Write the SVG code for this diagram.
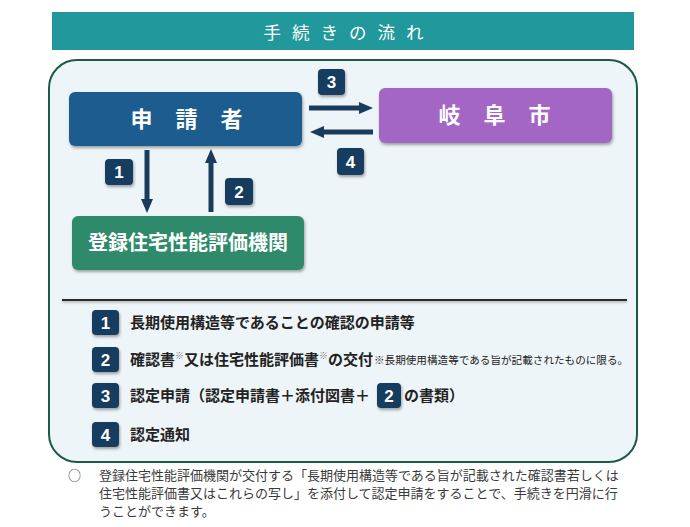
<svg xmlns="http://www.w3.org/2000/svg" width="690" height="527" viewBox="0 0 690 527">
<defs>
<style>
.cjk{font-family:"Noto Sans CJK JP","Noto Sans CJK SC",sans-serif;}
.badge{fill:#173e5e;}
.bt{font-family:"Liberation Sans","Noto Sans",sans-serif;font-weight:bold;font-size:17px;fill:#fff;text-anchor:middle;}
.node{font-family:"Noto Sans CJK JP",sans-serif;font-weight:bold;fill:#fff;text-anchor:middle;}
.leg{font-family:"Noto Sans CJK JP",sans-serif;font-weight:bold;font-size:15px;fill:#222;}
.note{font-family:"Noto Sans CJK JP",sans-serif;font-size:13px;fill:#3a3a3a;}
.arr{stroke:#1a3c5c;stroke-width:5;fill:none;}
.sup{font-size:9px;font-weight:normal;fill:#777;}
</style>
<filter id="sh" x="-10%" y="-10%" width="120%" height="130%">
<feDropShadow dx="1" dy="2" stdDeviation="1.8" flood-color="#000" flood-opacity="0.35"/>
</filter>
<filter id="lsh" filterUnits="userSpaceOnUse" x="50" y="290" width="590" height="20">
<feDropShadow dx="0" dy="1.5" stdDeviation="1" flood-color="#000" flood-opacity="0.3"/>
</filter>
<marker id="ah" viewBox="0 0 14 12" refX="1" refY="6" markerWidth="14" markerHeight="12" markerUnits="userSpaceOnUse" orient="auto">
<path d="M0,0 L14,6 L0,12 z" fill="#1a3c5c"/>
</marker>
</defs>

<rect x="0" y="0" width="690" height="527" fill="#fff"/>

<g id="header">
<rect x="52" y="12" width="582" height="38" fill="#21999c"/>
<text class="cjk" x="349" y="39" font-size="17.5" fill="#fff" text-anchor="middle" letter-spacing="11">手続きの流れ</text>
</g>

<g id="frame">
<rect x="49" y="60" width="588" height="402" rx="28" fill="#eef5f8" stroke="#1e5947" stroke-width="2"/>
<rect x="62" y="299" width="565" height="2" fill="#2a2a2a" filter="url(#lsh)"/>
</g>

<g id="applicant">
<rect x="69" y="92" width="233" height="54" rx="6" fill="#1f5b8e" filter="url(#sh)"/>
<text class="node" x="198" y="127" font-size="22" letter-spacing="23">申請者</text>
</g>

<g id="gifu">
<rect x="379" y="88" width="233" height="55" rx="6" fill="#a466c4" filter="url(#sh)"/>
<text class="node" x="506" y="123" font-size="22" letter-spacing="23">岐阜市</text>
</g>

<g id="agency">
<rect x="72" y="216" width="232" height="54" rx="6" fill="#2f8a6b" filter="url(#sh)"/>
<text class="node" x="188" y="250" font-size="20" font-weight="500">登録住宅性能評価機関</text>
</g>

<g id="connectors">
<line class="arr" x1="309" y1="108" x2="360" y2="108" marker-end="url(#ah)"/>
<line class="arr" x1="373" y1="132" x2="323" y2="132" marker-end="url(#ah)"/>
<line class="arr" x1="147" y1="150" x2="147" y2="200" marker-end="url(#ah)"/>
<line class="arr" x1="211" y1="212" x2="211" y2="162" marker-end="url(#ah)"/>
</g>

<g id="badge3">
<rect class="badge" x="318" y="69" width="27" height="26" rx="4" filter="url(#sh)"/>
<text class="bt" x="331.5" y="88">3</text>
</g>
<g id="badge4">
<rect class="badge" x="337" y="148" width="27" height="27" rx="4" filter="url(#sh)"/>
<text class="bt" x="350.5" y="168">4</text>
</g>
<g id="badge1">
<rect class="badge" x="105" y="159" width="28" height="26" rx="4" filter="url(#sh)"/>
<text class="bt" x="119" y="178">1</text>
</g>
<g id="badge2">
<rect class="badge" x="225" y="178" width="28" height="27" rx="4" filter="url(#sh)"/>
<text class="bt" x="239" y="198">2</text>
</g>

<g id="legend">
<rect class="badge" x="92" y="310" width="27" height="25" rx="4" filter="url(#sh)"/>
<text class="bt" x="105.5" y="329">1</text>
<text class="leg" x="130" y="328">長期使用構造等であることの確認の申請等</text>

<rect class="badge" x="92" y="347" width="27" height="25" rx="4" filter="url(#sh)"/>
<text class="bt" x="105.5" y="366">2</text>
<text class="leg" x="130" y="365">確認書<tspan class="sup" dy="-6">※</tspan><tspan dy="6">又は住宅性能評価書</tspan><tspan class="sup" dy="-6">※</tspan><tspan dy="6">の交付</tspan></text>
<text class="cjk" x="374" y="364" font-size="10.6" fill="#222">※長期使用構造等である旨が記載されたものに限る。</text>

<rect class="badge" x="92" y="383" width="27" height="25" rx="4" filter="url(#sh)"/>
<text class="bt" x="105.5" y="402">3</text>
<text class="leg" x="130" y="401">認定申請（認定申請書＋添付図書＋</text>
<rect class="badge" x="377" y="383" width="24" height="25" rx="4" filter="url(#sh)"/>
<text class="bt" x="389" y="402">2</text>
<text class="leg" x="404" y="401">の書類）</text>

<rect class="badge" x="92" y="422" width="27" height="25" rx="4" filter="url(#sh)"/>
<text class="bt" x="105.5" y="441">4</text>
<text class="leg" x="130" y="440">認定通知</text>
</g>

<g id="note">
<text class="note" x="68" y="480">○</text>
<text class="note" x="99" y="480">登録住宅性能評価機関が交付する「長期使用構造等である旨が記載された確認書若しくは</text>
<text class="note" x="99" y="498">住宅性能評価書又はこれらの写し」を添付して認定申請をすることで、手続きを円滑に行</text>
<text class="note" x="99" y="516">うことができます。</text>
</g>
</svg>
